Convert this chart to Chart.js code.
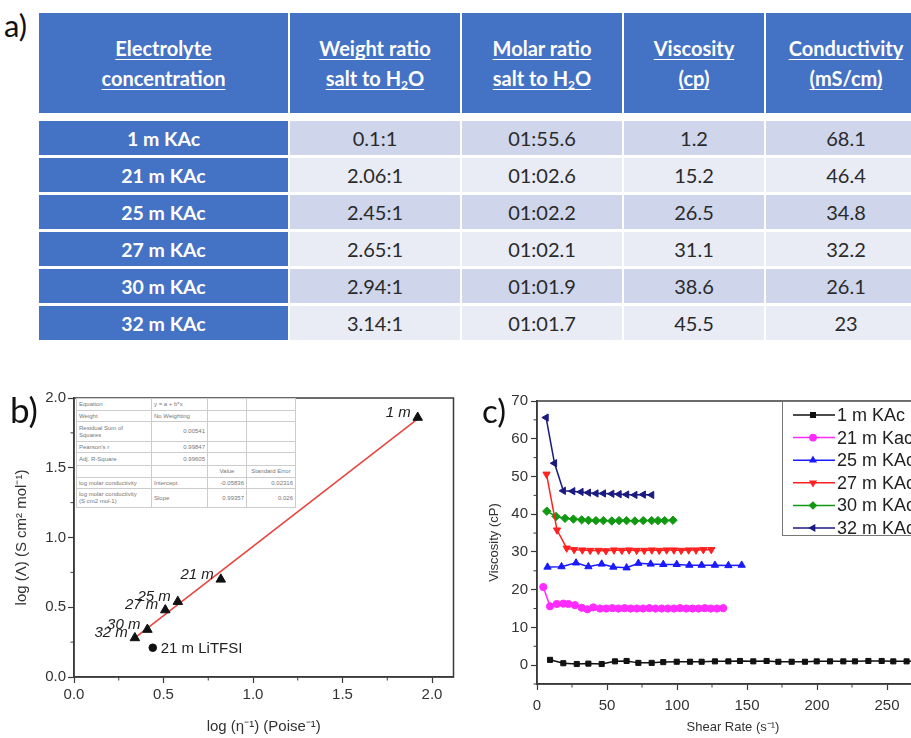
<!DOCTYPE html>
<html>
<head>
<meta charset="utf-8">
<script src="https://cdn.jsdelivr.net/npm/chart.js@4.4.1/dist/chart.umd.min.js"></script>
<style>
  html, body { margin: 0; padding: 0; background: #fff; }
  body { width: 911px; height: 738px; position: relative; overflow: hidden; }
  .panel { position: absolute; font-family: Lato, "Open Sans", sans-serif; color: #111; }
  #tbl { position: absolute; left: 39px; top: 13px; display: grid;
         grid-template-columns: 249px 170px 160px 140px 160px;
         grid-template-rows: 105px 34px 34px 34px 34px 34px 34px;
         column-gap: 2px; row-gap: 3px; font-family: Lato, sans-serif; }
  #tbl > div { display: flex; align-items: center; justify-content: center; text-align: center; }
  #tbl .h { background: #4472C4; color: #fff; font-weight: bold; font-size: 20px; line-height: 30px; margin-bottom: 5px; }
  #tbl .h span { text-decoration: underline; text-underline-offset: 3px; text-decoration-thickness: 1px; }
  #tbl .h sub { font-size: 12px; line-height: 0; vertical-align: -3px; }
  #tbl .c1 { background: #4472C4; color: #fff; font-weight: bold; font-size: 19.5px; }
  #tbl .odd { background: #CFD5EA; color: #2a2a2a; font-size: 20px; }
  #tbl .even { background: #E9EBF5; color: #2a2a2a; font-size: 20px; }
  #fit { position: absolute; left: 76px; top: 398px; width: 220px; border-collapse: collapse; background: #fff;
         font-family: "Liberation Sans", Arial, sans-serif; font-size: 6px; color: #777; border-right: 1.5px solid #666; border-bottom: 1.5px solid #666; }
  #fit td { border: 0.5px solid #ccc; padding: 0 2px; line-height: 7px; vertical-align: middle; }
  #fit td.r { text-align: right; }
  #fit td.c { text-align: center; }
</style>
</head>
<body>
<div class="panel" style="left:4px;top:6px;font-size:31px;">a)</div>
<div id="tbl"></div>

<canvas id="chartB" width="460" height="358" style="position:absolute;left:0;top:380px;"></canvas>
<div class="panel" style="left:10px;top:388px;font-size:35px;">b)</div>
<table id="fit">
  <tr style="height:12px"><td style="width:70px">Equation</td><td style="width:51px">y = a + b*x</td><td style="width:34px"></td><td></td></tr>
  <tr style="height:11px"><td>Weight</td><td>No Weighting</td><td></td><td></td></tr>
  <tr style="height:20px"><td>Residual Sum of<br>Squares</td><td class="r">0.00541</td><td></td><td></td></tr>
  <tr style="height:11px"><td>Pearson's r</td><td class="r">0.99847</td><td></td><td></td></tr>
  <tr style="height:13px"><td>Adj. R-Square</td><td class="r">0.99605</td><td></td><td></td></tr>
  <tr style="height:12px"><td></td><td></td><td class="c">Value</td><td class="c">Standard Error</td></tr>
  <tr style="height:11px"><td>log molar conductivity</td><td>Intercept</td><td class="r">-0.05836</td><td class="r">0.02316</td></tr>
  <tr style="height:19px"><td>log molar conductivity<br>(S cm2 mol-1)</td><td>Slope</td><td class="r">0.99357</td><td class="r">0.026</td></tr>
</table>

<canvas id="chartC" width="480" height="358" style="position:absolute;left:460px;top:380px;"></canvas>
<div class="panel" style="left:482px;top:390px;font-size:33px;">c)</div>

<script>
// ---------- (a) electrolyte table ----------
const electrolytes   = ['1 m KAc', '21 m KAc', '25 m KAc', '27 m KAc', '30 m KAc', '32 m KAc'];
const weightRatios   = ['0.1:1', '2.06:1', '2.45:1', '2.65:1', '2.94:1', '3.14:1'];
const molarRatios    = ['01:55.6', '01:02.6', '01:02.2', '01:02.1', '01:01.9', '01:01.7'];
const viscosities    = ['1.2', '15.2', '26.5', '31.1', '38.6', '45.5'];
const conductivities = ['68.1', '46.4', '34.8', '32.2', '26.1', '23'];
const tableHeaders   = ['Electrolyte<br>concentration', 'Weight ratio<br>salt to H<sub>2</sub>O',
                        'Molar ratio<br>salt to H<sub>2</sub>O', 'Viscosity<br>(cp)', 'Conductivity<br>(mS/cm)'];

// ---------- (b) Walden-type plot ----------
const bPointLabels   = ['1 m', '21 m', '25 m', '27 m', '30 m', '32 m'];
const bLogInvVisc    = [1.92, 0.82, 0.58, 0.51, 0.41, 0.34];
const bLogMolarCond  = [1.86, 0.70, 0.54, 0.48, 0.34, 0.28];
const litfsiLabel    = ['21 m LiTFSI'];
const litfsiLogInvVisc = [0.44];
const litfsiLogMolarCond = [0.21];
const fitCoef        = [-0.058, 0.994];   // intercept, slope
const fitXRange      = [0.34, 1.92];
const bXTicks        = [0, 0.5, 1.0, 1.5, 2.0];
const bYTicks        = [0, 0.5, 1.0, 1.5, 2.0];

// ---------- (c) viscosity vs shear rate ----------
const seriesNames = ['1 m KAc', '21 m Kac', '25 m KAc', '27 m KAc', '30 m KAc', '32 m KAc'];
const shear1  = [9.3, 18.8, 28.4, 36.7, 46.2, 55.7, 64.0, 72.4, 81.9, 90.2, 99.8, 109.3, 117.6, 127.1, 136.7,
                 145.0, 154.5, 164.0, 172.4, 181.9, 191.4, 199.8, 209.3, 218.8, 227.1, 236.7, 246.2, 254.5, 264.0, 273.4];
const visc1   = [1.4, 0.5, 0.3, 0.4, 0.3, 1.0, 1.1, 0.6, 0.6, 0.8, 0.9, 0.9, 0.9, 1.0, 1.0,
                 1.1, 1.0, 1.1, 0.9, 0.9, 0.9, 1.0, 1.0, 1.0, 1.0, 1.1, 1.1, 1.0, 1.0, 1.0];
const shear21 = [4.5, 9.3, 14.1, 18.8, 22.4, 27.1, 31.9, 36.0, 40.2, 45.0, 49.4, 53.8, 58.2, 62.6, 67.0,
                 71.4, 75.8, 80.2, 84.6, 89.0, 93.4, 97.8, 102.2, 106.6, 111.0, 115.4, 119.8, 124.2, 128.6, 133.0];
const visc21  = [20.7, 15.6, 16.2, 16.3, 16.2, 15.9, 15.2, 14.8, 15.3, 15.0, 15.0, 15.1, 15.0, 15.1, 15.0,
                 15.0, 15.0, 15.1, 15.0, 15.0, 15.0, 15.0, 15.1, 15.0, 15.0, 15.0, 15.1, 15.0, 15.0, 15.1];
const shear25 = [7.5, 17.5, 27.9, 36.7, 46.2, 54.5, 64.0, 72.4, 81.2, 90.2, 99.8, 108.8, 117.6, 127.1, 136.7, 146.2];
const visc25  = [26.0, 26.1, 27.1, 26.1, 26.8, 26.0, 25.8, 27.0, 26.8, 26.7, 26.7, 26.5, 26.5, 26.5, 26.4, 26.5];
const shear27 = [6.8, 14.3, 21.2, 26.5, 32.4, 38.0, 43.8, 49.2, 55.0, 60.6, 65.8, 71.2, 76.6, 82.0, 87.3,
                 92.6, 97.8, 103.0, 108.3, 113.6, 118.8, 124.5];
const visc27  = [50.6, 35.8, 31.0, 30.6, 30.5, 30.4, 30.4, 30.3, 30.5, 30.4, 30.5, 30.4, 30.4, 30.5, 30.4,
                 30.5, 30.5, 30.4, 30.5, 30.5, 30.6, 30.6];
const shear30 = [7.0, 13.6, 20.0, 26.0, 31.9, 36.7, 42.1, 47.4, 53.4, 58.6, 64.0, 69.9, 75.9, 81.9, 86.4, 91.2, 97.1];
const visc30  = [40.8, 39.4, 38.9, 38.7, 38.5, 38.4, 38.3, 38.3, 38.2, 38.3, 38.3, 38.2, 38.3, 38.3, 38.3, 38.3, 38.4];
const shear32 = [6.5, 12.5, 18.8, 25.5, 31.4, 36.7, 42.1, 47.4, 53.4, 58.6, 64.0, 69.9, 75.9, 81.9];
const visc32  = [65.6, 53.5, 46.2, 46.1, 45.9, 45.7, 45.5, 45.5, 45.4, 45.3, 45.2, 45.1, 45.2, 45.1];
const cXTicks = [0, 50, 100, 150, 200, 250];
const cYTicks = [0, 10, 20, 30, 40, 50, 60, 70];

// ---------- build table ----------
(function buildTable() {
  const t = document.getElementById('tbl');
  const add = (cls, html) => {
    const d = document.createElement('div');
    d.className = cls;
    d.innerHTML = '<span>' + html + '</span>';
    t.appendChild(d);
  };
  tableHeaders.forEach(h => add('h', h));
  electrolytes.forEach((e, i) => {
    const cls = i % 2 === 0 ? 'odd' : 'even';
    add('c1', e);
    add(cls, weightRatios[i]);
    add(cls, molarRatios[i]);
    add(cls, viscosities[i]);
    add(cls, conductivities[i]);
  });
})();

const AXIS = '#3a3a3a';
const TICKFONT = { family: '"Liberation Sans", Arial, sans-serif', size: 15 };
const pts = (xs, ys) => xs.map((x, i) => ({ x, y: ys[i] }));
const setTicks = arr => scale => { scale.ticks = arr.map(v => ({ value: v })); };

// frame around plot area plus small outward minor ticks
function framePlugin(minorX, minorY) {
  return {
    id: 'frame',
    afterDatasetsDraw(chart) {
      const { ctx, chartArea: a, scales } = chart;
      ctx.save();
      ctx.strokeStyle = AXIS;
      ctx.lineWidth = 1.5;
      ctx.strokeRect(a.left, a.top, a.right - a.left, a.bottom - a.top);
      ctx.lineWidth = 1;
      ctx.beginPath();
      minorX.forEach(v => { const p = scales.x.getPixelForValue(v); ctx.moveTo(p, a.bottom); ctx.lineTo(p, a.bottom + 3.5); });
      minorY.forEach(v => { const p = scales.y.getPixelForValue(v); ctx.moveTo(a.left, p); ctx.lineTo(a.left - 3.5, p); });
      ctx.stroke();
      ctx.restore();
    }
  };
}

// ---------- chart (b) ----------
const fitLine = fitXRange.map(x => ({ x, y: fitCoef[0] + fitCoef[1] * x }));
new Chart(document.getElementById('chartB'), {
  type: 'scatter',
  data: {
    datasets: [
      { data: pts(bLogInvVisc, bLogMolarCond), pointStyle: 'triangle', pointRadius: 5.5,
        backgroundColor: '#111', borderColor: '#111', borderWidth: 1 },
      { data: pts(litfsiLogInvVisc, litfsiLogMolarCond), pointStyle: 'circle', pointRadius: 3.8,
        backgroundColor: '#111', borderColor: '#111' },
      { data: fitLine, showLine: true, pointRadius: 0, borderColor: '#e8453f', borderWidth: 1.6 }
    ]
  },
  options: {
    responsive: false, animation: false,
    layout: { padding: { left: 0, right: 5, top: 18, bottom: 0 } },
    plugins: { legend: { display: false }, tooltip: { enabled: false } },
    scales: {
      x: {
        min: 0, max: 2.12,
        afterBuildTicks: setTicks(bXTicks),
        afterFit: s => { s.height = 61; },
        grid: { drawOnChartArea: false, tickLength: 6, color: AXIS, tickWidth: 1.2 },
        border: { color: AXIS, width: 1.5 },
        ticks: { color: '#333', font: TICKFONT, padding: 3, maxRotation: 0, callback: v => v.toFixed(1) },
        title: { display: true, text: 'log (η⁻¹) (Poise⁻¹)', color: '#333',
                 font: { family: '"Liberation Sans", Arial, sans-serif', size: 15 }, padding: { top: 0, bottom: 2 } }
      },
      y: {
        min: 0, max: 2.0,
        afterBuildTicks: setTicks(bYTicks),
        afterFit: s => { s.width = 74; },
        grid: { drawOnChartArea: false, tickLength: 6, color: AXIS, tickWidth: 1.2 },
        border: { color: AXIS, width: 1.5 },
        ticks: { color: '#333', font: TICKFONT, padding: 2, callback: v => v.toFixed(1) },
        title: { display: true, text: 'log (Λ) (S cm² mol⁻¹)', color: '#333',
                 font: { family: '"Liberation Sans", Arial, sans-serif', size: 15 }, padding: { top: 13, bottom: 0 } }
      }
    }
  },
  plugins: [
    framePlugin([0.25, 0.75, 1.25, 1.75], [0.25, 0.75, 1.25, 1.75]),
    {
      id: 'pointLabels',
      afterDatasetsDraw(chart) {
        const ctx = chart.ctx;
        ctx.save();
        ctx.fillStyle = '#222';
        ctx.textBaseline = 'middle';
        ctx.font = 'italic 15px "Liberation Sans", Arial, sans-serif';
        ctx.textAlign = 'right';
        chart.getDatasetMeta(0).data.forEach((el, i) => {
          ctx.fillText(bPointLabels[i], el.x - 7, el.y - 5);
        });
        ctx.font = '15px "Liberation Sans", Arial, sans-serif';
        ctx.textAlign = 'left';
        chart.getDatasetMeta(1).data.forEach((el, i) => {
          ctx.fillText(litfsiLabel[i], el.x + 8, el.y + 1);
        });
        ctx.restore();
      }
    }
  ]
});

// ---------- chart (c) ----------
const cStyles = [
  { color: '#111111', pointStyle: 'rect',     rotation: 0,   radius: 3.6 },
  { color: '#ff2bff', pointStyle: 'circle',   rotation: 0,   radius: 3.6 },
  { color: '#1a1aff', pointStyle: 'triangle', rotation: 0,   radius: 4.2 },
  { color: '#ff2020', pointStyle: 'triangle', rotation: 180, radius: 4.2 },
  { color: '#119911', pointStyle: 'rectRot',  rotation: 0,   radius: 4.2 },
  { color: '#1a1a80', pointStyle: 'triangle', rotation: 270, radius: 4.2 }
];
const cSeries = [pts(shear1, visc1), pts(shear21, visc21), pts(shear25, visc25),
                 pts(shear27, visc27), pts(shear30, visc30), pts(shear32, visc32)];

new Chart(document.getElementById('chartC'), {
  type: 'scatter',
  data: {
    datasets: cSeries.map((d, i) => ({
      label: seriesNames[i], data: d, showLine: true,
      borderColor: cStyles[i].color, backgroundColor: cStyles[i].color, borderWidth: 1.5,
      pointStyle: cStyles[i].pointStyle, rotation: cStyles[i].rotation, pointRadius: cStyles[i].radius,
      pointBorderWidth: 1
    }))
  },
  options: {
    responsive: false, animation: false,
    layout: { padding: { left: 0, right: 11, top: 21, bottom: 0 } },
    plugins: { legend: { display: false }, tooltip: { enabled: false } },
    scales: {
      x: {
        min: 0, max: 280,
        afterBuildTicks: setTicks(cXTicks),
        afterFit: s => { s.height = 54; },
        grid: { drawOnChartArea: false, tickLength: 6, color: AXIS, tickWidth: 1.2 },
        border: { color: AXIS, width: 1.5 },
        ticks: { color: '#333', font: TICKFONT, padding: 7, maxRotation: 0 },
        title: { display: true, text: 'Shear Rate (s⁻¹)', color: '#333',
                 font: { family: '"Liberation Sans", Arial, sans-serif', size: 13 }, padding: { top: 0, bottom: 3 } }
      },
      y: {
        min: -5, max: 70,
        afterBuildTicks: setTicks(cYTicks),
        afterFit: s => { s.width = 77; },
        grid: { drawOnChartArea: false, tickLength: 6, color: AXIS, tickWidth: 1.2 },
        border: { color: AXIS, width: 1.5 },
        ticks: { color: '#333', font: TICKFONT, padding: 3 },
        title: { display: true, text: 'Viscosity (cP)', color: '#333',
                 font: { family: '"Liberation Sans", Arial, sans-serif', size: 13 }, padding: { top: 27, bottom: 0 } }
      }
    }
  },
  plugins: [
    framePlugin([25, 75, 125, 175, 225, 275], [-5, 5, 15, 25, 35, 45, 55, 65]),
    {
      id: 'boxLegend',
      afterDraw(chart) {
        const { ctx, chartArea: a, width } = chart;
        const left = 322, top = a.top, bottom = 155;
        ctx.save();
        ctx.fillStyle = '#fff';
        ctx.fillRect(left, top, width - left, bottom - top);
        ctx.strokeStyle = '#777';
        ctx.lineWidth = 1;
        ctx.strokeRect(left + 0.5, top + 0.5, width - left + 10, bottom - top);
        ctx.font = '18px "Liberation Sans", Arial, sans-serif';
        ctx.textBaseline = 'middle';
        ctx.textAlign = 'left';
        chart.data.datasets.forEach((ds, i) => {
          const y = top + 14 + i * 22.6;
          ctx.strokeStyle = ds.borderColor;
          ctx.lineWidth = 1.5;
          ctx.beginPath();
          ctx.moveTo(333, y); ctx.lineTo(375, y);
          ctx.stroke();
          ctx.fillStyle = ds.backgroundColor;
          Chart.helpers.drawPoint(ctx, { pointStyle: ds.pointStyle, rotation: ds.rotation, radius: 3.2, borderWidth: 1 }, 353, y);
          ctx.fillStyle = '#222';
          ctx.fillText(ds.label, 377, y + 1);
        });
        ctx.restore();
      }
    }
  ]
});
</script>
</body>
</html>
